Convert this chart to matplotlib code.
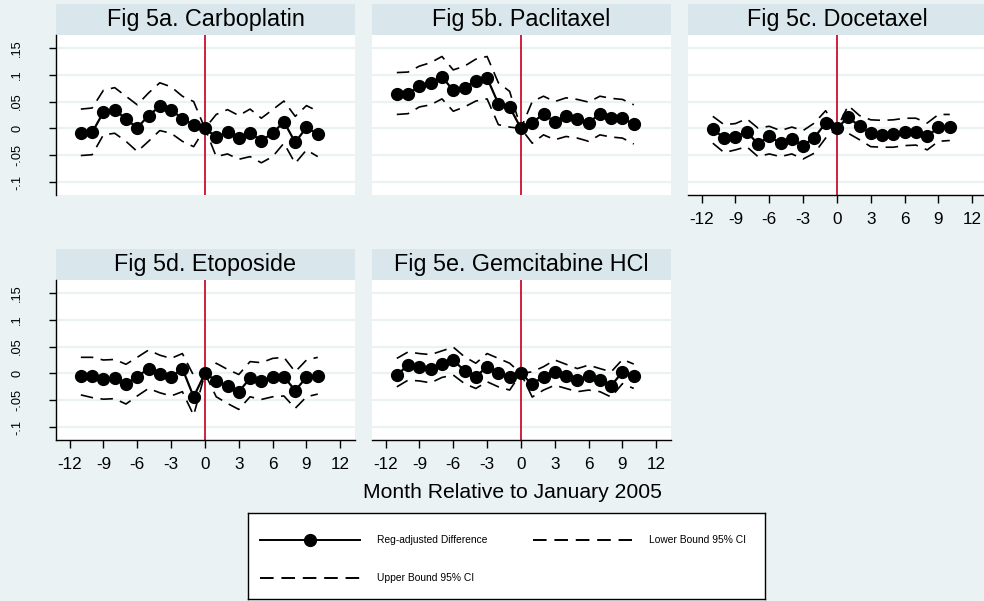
import numpy as np
import matplotlib
matplotlib.use("Agg")
import matplotlib.pyplot as plt
from matplotlib.patches import Rectangle
from matplotlib.lines import Line2D

plt.rcParams['font.family'] = ['Liberation Sans', 'DejaVu Sans']

# months relative to January 2005
months = list(range(-11, 11))

titles = ["Fig 5a. Carboplatin", "Fig 5b. Paclitaxel", "Fig 5c. Docetaxel",
          "Fig 5d. Etoposide", "Fig 5e. Gemcitabine HCl"]

# reg-adjusted differences, lower / upper 95% CI
carbo_diff = [-0.009, -0.0075, 0.030, 0.035, 0.0175, 0.001, 0.024, 0.041, 0.035, 0.018, 0.007,
              0.0, -0.016, -0.0075, -0.017, -0.009, -0.0225, -0.009, 0.0125, -0.026, 0.002, -0.011]
carbo_lo = [-0.0505, -0.049, -0.012, -0.009, -0.024, -0.043, -0.024, -0.004, -0.009, -0.024, -0.034,
            0.0, -0.0525, -0.0475, -0.0575, -0.0525, -0.064, -0.0525, -0.0275, -0.065, -0.040, -0.0525]
carbo_hi = [0.036, 0.038, 0.071, 0.076, 0.060, 0.044, 0.066, 0.085, 0.0775, 0.060, 0.050,
            0.0, 0.026, 0.035, 0.024, 0.036, 0.019, 0.035, 0.051, 0.0225, 0.0425, 0.032]

pacli_diff = [0.064, 0.064, 0.079, 0.084, 0.096, 0.071, 0.076, 0.089, 0.094, 0.046, 0.040,
              0.0, 0.010, 0.0275, 0.012, 0.0225, 0.0175, 0.011, 0.027, 0.019, 0.019, 0.008]
pacli_lo = [0.026, 0.0275, 0.040, 0.044, 0.055, 0.032, 0.040, 0.051, 0.055, 0.007, 0.0025,
            0.0, -0.0275, -0.012, -0.021, -0.015, -0.018, -0.024, -0.012, -0.016, -0.018, -0.029]
pacli_hi = [0.104, 0.105, 0.116, 0.1225, 0.134, 0.109, 0.116, 0.129, 0.134, 0.085, 0.069,
            0.0, 0.050, 0.060, 0.050, 0.057, 0.054, 0.049, 0.060, 0.056, 0.054, 0.044]

doce_diff = [-0.001, -0.018, -0.016, -0.006, -0.029, -0.015, -0.0275, -0.020, -0.032, -0.017, 0.010,
             0.0, 0.021, 0.004, -0.009, -0.012, -0.011, -0.006, -0.006, -0.015, 0.002, 0.002]
doce_lo = [-0.0275, -0.045, -0.040, -0.034, -0.0525, -0.0475, -0.0525, -0.0475, -0.057, -0.046, -0.018,
           0.0, -0.009, -0.021, -0.034, -0.035, -0.035, -0.032, -0.031, -0.040, -0.024, -0.0225]
doce_hi = [0.0225, 0.007, 0.009, 0.018, 0.0006, 0.004, -0.004, 0.0025, -0.004, 0.010, 0.033,
           0.0, 0.0425, 0.024, 0.016, 0.015, 0.016, 0.019, 0.019, 0.010, 0.026, 0.026]

etop_diff = [-0.0055, -0.004, -0.011, -0.009, -0.020, -0.006, 0.009, -0.001, -0.007, 0.009, -0.0435,
             0.0, -0.0135, -0.0235, -0.034, -0.009, -0.014, -0.007, -0.006, -0.032, -0.007, -0.004]
etop_lo = [-0.040, -0.045, -0.048, -0.047, -0.057, -0.042, -0.028, -0.036, -0.042, -0.034, -0.078,
           0.0, -0.0435, -0.056, -0.067, -0.0435, -0.0485, -0.0435, -0.042, -0.065, -0.0435, -0.0385]
etop_hi = [0.030, 0.030, 0.025, 0.026, 0.017, 0.030, 0.0435, 0.034, 0.028, 0.037, -0.004,
           0.0, 0.019, 0.0075, -0.002, 0.022, 0.020, 0.028, 0.030, 0.003, 0.025, 0.030]

gem_diff = [-0.003, 0.0155, 0.0125, 0.009, 0.0175, 0.025, 0.005, -0.006, 0.0125, 0.001, -0.006,
            0.0, -0.020, -0.006, 0.003, -0.005, -0.0125, -0.005, -0.0125, -0.023, 0.003, -0.004]
gem_lo = [-0.025, -0.0125, -0.014, -0.0175, -0.0075, -0.003, -0.019, -0.028, -0.0155, -0.025, -0.031,
          0.0, -0.044, -0.031, -0.022, -0.028, -0.034, -0.031, -0.034, -0.044, -0.019, -0.028]
gem_hi = [0.028, 0.040, 0.037, 0.035, 0.042, 0.049, 0.031, 0.019, 0.037, 0.028, 0.019,
          0.0, 0.003, 0.0125, 0.025, 0.017, 0.009, 0.0155, 0.009, 0.003, 0.026, 0.0175]

diffs = [carbo_diff, pacli_diff, doce_diff, etop_diff, gem_diff]
lows = [carbo_lo, pacli_lo, doce_lo, etop_lo, gem_lo]
highs = [carbo_hi, pacli_hi, doce_hi, etop_hi, gem_hi]

yticks = [-0.1, -0.05, 0, 0.05, 0.1, 0.15]
ytick_labels = ["-.1", "-.05", "0", ".05", ".1", ".15"]
xticks = list(range(-12, 13, 3))

BG = "#EAF2F3"
STRIP = "#D9E6EB"
RED = "#C8102E"

W, H = 984, 601
fig = plt.figure(figsize=(W / 100, H / 100), dpi=100)
fig.patch.set_facecolor(BG)

col_left = [56, 372, 688]
row_top = [35, 280]
pw, ph = 299, 160
strip_h = 31

# panel index -> (row, col)
slots = [(0, 0), (0, 1), (0, 2), (1, 0), (1, 1)]

dash = (7.5, 4.5)

for i, (r, c) in enumerate(slots):
    ax = fig.add_axes([col_left[c] / W, (H - row_top[r] - ph) / H, pw / W, ph / H])
    ax.set_facecolor("white")
    ax.set_xlim(-13.2, 13.3)
    ax.set_ylim(-0.124, 0.174)
    for y in yticks:
        ax.axhline(y, color=BG, lw=1.6, zorder=0)
    ax.axvline(0, color=RED, lw=1.3, zorder=1)
    ax.plot(months, lows[i], color="black", lw=1.2, dashes=dash, zorder=2)
    ax.plot(months, highs[i], color="black", lw=1.2, dashes=dash, zorder=2)
    ax.plot(months, diffs[i], color="black", lw=1.6, marker="o", ms=8.5, zorder=3)

    for s in ax.spines.values():
        s.set_visible(False)

    show_x = (i in (2, 3, 4))
    show_y = (c == 0)
    ax.set_xticks(xticks)
    ax.set_yticks(yticks)
    if show_x:
        ax.spines["bottom"].set_visible(True)
        ax.spines["bottom"].set_linewidth(1.0)
        ax.set_xticklabels([str(t) for t in xticks], fontsize=12.3)
        ax.tick_params(axis="x", length=6, width=1.0, pad=6)
    else:
        ax.tick_params(axis="x", length=0, labelbottom=False)
    if show_y:
        ax.spines["left"].set_visible(True)
        ax.spines["left"].set_linewidth(1.0)
        ax.set_yticklabels(ytick_labels, fontsize=9.2, rotation=90, va="center")
        ax.tick_params(axis="y", length=5, width=1.0, pad=18.5)
    else:
        ax.tick_params(axis="y", length=0, labelleft=False)

    ax.add_patch(Rectangle((0, 1), 1, strip_h / ph, transform=ax.transAxes,
                           facecolor=STRIP, edgecolor="none", clip_on=False))
    ax.text(0.5, 1 + strip_h / ph / 2, titles[i], transform=ax.transAxes,
            ha="center", va="center", fontsize=16.8)

fig.text(512 / W, 1 - 493 / H, "Month Relative to January 2005", ha="center", va="center", fontsize=15.2)

# legend box
lx0, ly0, lx1, ly1 = 248, 513, 765, 599
lax = fig.add_axes([lx0 / W, (H - ly1) / H, (lx1 - lx0) / W, (ly1 - ly0) / H])
lax.set_xlim(lx0, lx1)
lax.set_ylim(ly1, ly0)
lax.set_xticks([])
lax.set_yticks([])
lax.set_facecolor("white")
for s in lax.spines.values():
    s.set_linewidth(1.0)
    s.set_color("black")
lax.add_line(Line2D([260, 360], [540, 540], color="black", lw=1.4))
lax.plot([310], [540], marker="o", color="black", ms=8.5)
lax.text(377, 540, "Reg-adjusted Difference", va="center", fontsize=7.4)
lax.add_line(Line2D([533, 632], [540, 540], color="black", lw=1.4, dashes=(7, 4)))
lax.text(649, 540, "Lower Bound 95% CI", va="center", fontsize=7.4)
lax.add_line(Line2D([260, 360], [578, 578], color="black", lw=1.4, dashes=(7, 4)))
lax.text(377, 578, "Upper Bound 95% CI", va="center", fontsize=7.4)

fig.savefig("out.png", dpi=100, facecolor=BG)
